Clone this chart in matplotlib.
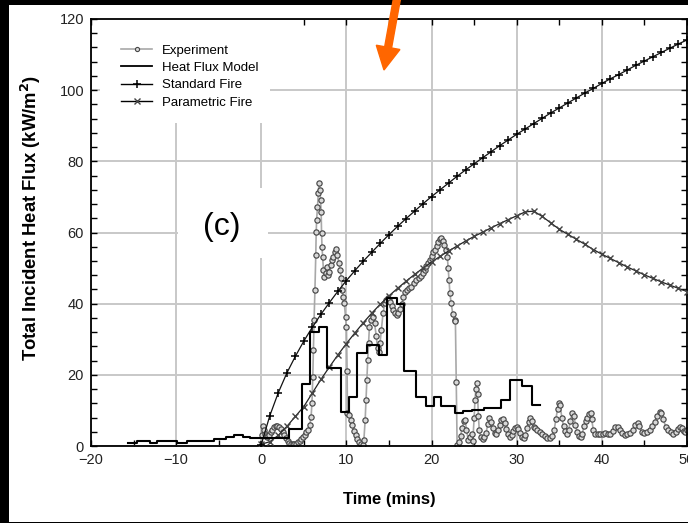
import matplotlib
matplotlib.use("Agg")
import matplotlib.pyplot as plt
from matplotlib.patches import Rectangle, FancyArrow
from matplotlib.ticker import MultipleLocator
from matplotlib.lines import Line2D

plt.rcParams['font.family'] = ['Liberation Sans', 'DejaVu Sans']

# ---------------- data ----------------
# Standard fire (one marker per minute)
std_t = list(range(0, 51))
std_y = [0.4, 8.5, 15.0, 20.5, 25.2, 29.5, 33.4, 37.0, 40.3, 43.5,
         46.5, 49.3, 52.0, 54.5, 57.0, 59.4, 61.7, 63.9, 66.0, 68.1,
         70.1, 72.0, 73.9, 75.8, 77.6, 79.3, 81.0, 82.7, 84.4, 86.0,
         87.6, 89.1, 90.6, 92.1, 93.6, 95.0, 96.4, 97.8, 99.2, 100.5,
         101.9, 103.2, 104.4, 105.7, 107.0, 108.2, 109.4, 110.6, 111.8, 113.0,
         114.1]

# Parametric fire (one marker per minute)
par_t = list(range(0, 51))
par_y = [0.5, 1.2, 3.0, 5.5, 8.3, 11.1, 14.9, 18.7, 22.2, 25.6,
         28.8, 31.8, 34.7, 37.4, 39.9, 42.2, 44.3, 46.3, 48.2, 50.0,
         51.7, 53.3, 54.8, 56.2, 57.6, 58.9, 60.1, 61.3, 62.5, 63.6,
         64.7, 65.8, 66.0, 64.5, 62.7, 60.9, 59.5, 58.1, 56.7, 55.2,
         53.9, 52.7, 51.5, 50.3, 49.2, 48.1, 47.1, 46.1, 45.2, 44.3,
         43.4]

# Heat flux model (step edges and level held after each edge)
hfm_t = [-15.7, -14.6, -13.1, -12.2, -9.9, -8.7, -5.6, -4.2, -3.2, -2.1,
         -1.3, 3.2, 4.8, 5.7, 6.8, 7.7, 9.4, 10.3, 11.2, 12.4,
         13.8, 14.8, 15.9, 16.8, 18.2, 19.3, 20.3, 21.1, 22.8, 23.7,
         24.8, 26.2, 28.1, 29.2, 30.6, 31.8, 32.7]
hfm_y = [0.9, 1.4, 0.9, 1.4, 0.9, 1.4, 1.9, 2.4, 3.2, 2.6,
         2.2, 4.7, 17.3, 32.1, 33.5, 22.0, 9.6, 13.9, 26.2, 28.4,
         25.6, 41.7, 39.8, 21.2, 13.7, 11.3, 13.7, 11.3, 9.4, 9.9,
         10.1, 10.6, 12.9, 18.5, 16.9, 11.5, 11.5]

# Experiment
exp_t = [0.0, 0.1, 0.2, 0.3, 0.4, 0.5, 0.7, 0.9, 1.1, 1.3, 1.5, 1.7, 1.9, 2.1, 2.3,
         2.5, 2.7, 2.9, 3.1, 3.3, 3.5, 3.7, 3.9, 4.1, 4.3, 4.5, 4.7, 4.9, 5.1, 5.3,
         5.5, 5.7, 5.85, 5.95, 6.05, 6.12, 6.2, 6.3, 6.4, 6.45, 6.5, 6.6, 6.7, 6.78,
         6.88, 6.96, 7.03, 7.08, 7.13, 7.2, 7.3, 7.4, 7.55, 7.7, 7.85, 8.0, 8.15,
         8.3, 8.45, 8.6, 8.8, 8.95, 9.1, 9.25, 9.4, 9.5, 9.6, 9.75, 9.9, 10.0,
         10.08, 10.12, 10.3, 10.5, 10.7, 10.9, 11.1, 11.3, 11.5, 11.7, 11.9,
         12.05, 12.2, 12.3, 12.4, 12.5, 12.6, 12.7, 12.9, 13.1, 13.3, 13.5,
         13.65, 13.8, 13.95, 14.1, 14.3, 14.5, 14.7, 14.9, 15.1, 15.3, 15.5,
         15.7, 15.9, 16.1, 16.3, 16.5, 16.7, 16.9, 17.1, 17.3, 17.6, 17.9,
         18.2, 18.5, 18.8, 19.0, 19.2, 19.4, 19.6, 19.8, 20.0, 20.2, 20.4,
         20.6, 20.8, 21.0, 21.1, 21.3, 21.5, 21.7, 21.85, 21.95, 22.05, 22.15,
         22.3, 22.5, 22.7, 22.8, 22.9, 23.0, 23.2, 23.4, 23.6, 23.8, 23.95,
         24.1, 24.3, 24.5, 24.7, 24.85, 25.0, 25.1, 25.2, 25.3, 25.4, 25.5,
         25.6, 25.8, 26.0, 26.2, 26.4, 26.6, 26.8, 27.0, 27.2, 27.4, 27.6,
         27.8, 28.0, 28.2, 28.4, 28.6, 28.8, 29.0, 29.2, 29.4, 29.6, 29.8,
         30.0, 30.2, 30.4, 30.6, 30.8, 31.0, 31.2, 31.4, 31.6, 31.8, 32.0,
         32.2, 32.4, 32.7, 33.0, 33.3, 33.6, 33.9, 34.2, 34.4, 34.6, 34.8,
         35.0, 35.1, 35.3, 35.5, 35.7, 35.9, 36.1, 36.3, 36.5, 36.7, 36.9,
         37.1, 37.3, 37.5, 37.7, 37.9, 38.1, 38.3, 38.5, 38.7, 38.8, 39.0,
         39.2, 39.5, 39.8, 40.1, 40.4, 40.7, 41.0, 41.3, 41.6, 41.9, 42.1,
         42.4, 42.7, 43.0, 43.3, 43.6, 43.9, 44.2, 44.4, 44.7, 45.0, 45.3,
         45.6, 45.9, 46.2, 46.5, 46.8, 47.0, 47.2, 47.5, 47.8, 48.1, 48.4,
         48.7, 49.0, 49.2, 49.4, 49.6, 49.8, 50.0]
exp_y = [0.0, 3.0, 5.6, 4.5, 3.4, 2.8, 2.5, 3.2, 3.9, 4.6, 5.2, 5.5, 5.6, 5.3, 4.7,
         3.9, 3.0, 2.2, 1.4, 0.9, 0.6, 0.5, 0.5, 0.7, 1.0, 1.5, 2.0, 2.6, 3.1, 3.8,
         4.6, 6.0, 8.2, 12.0, 19.5, 27.0, 35.4, 43.8, 53.7, 60.2, 63.5, 67.3, 71.0, 74.0,
         72.0, 69.1, 65.9, 59.8, 56.0, 53.2, 49.5, 47.6, 48.5, 50.4, 48.0, 49.0, 51.0,
         52.3, 53.2, 54.6, 55.3, 53.7, 51.5, 49.5, 47.1, 43.8, 42.0, 40.1, 36.3, 33.5,
         21.0, 9.2, 8.8, 7.4, 5.8, 4.2, 3.0, 2.0, 1.2, 0.6, 0.3,
         1.7, 7.3, 12.9, 18.5, 24.2, 28.9, 33.5, 35.4, 36.3, 34.5, 31.0,
         27.5, 26.5, 29.0, 32.6, 37.3, 40.1, 41.0, 41.5, 40.6, 39.4, 38.2,
         37.3, 36.8, 37.3, 38.5, 40.0, 41.8, 43.2, 43.8, 44.3, 44.8, 45.8,
         46.6, 47.3, 47.8, 48.5, 49.5, 50.5, 51.5, 52.3, 53.5, 54.4, 55.1,
         56.3, 57.4, 58.2, 58.4, 57.6, 56.5, 55.0, 53.2, 50.0, 46.7, 43.0,
         40.1, 37.0, 35.4, 35.0, 18.0, 0.3, 1.0, 2.8, 5.0, 7.0, 7.3,
         4.5, 1.8, 2.5, 3.5, 1.5, 8.0, 13.0, 16.0, 17.6, 14.5, 8.5,
         4.5, 2.4, 2.0, 2.4, 3.6, 6.2, 7.8, 6.8, 5.0, 3.6, 3.4,
         4.5, 6.0, 7.2, 7.5, 6.5, 4.8, 3.4, 2.6, 3.0, 4.2, 5.0,
         5.2, 4.8, 3.6, 2.5, 2.2, 3.0, 5.0, 6.8, 7.8, 6.9, 5.4,
         5.0, 4.6, 4.0, 3.4, 2.8, 2.3, 2.2, 2.8, 4.5, 7.5, 10.5,
         12.0, 11.5, 8.0, 5.5, 4.3, 3.5, 4.5, 7.0, 9.2, 8.5, 6.0,
         3.8, 2.7, 2.6, 3.5, 5.5, 7.0, 7.8, 9.0, 9.2, 7.5, 4.5,
         3.4, 3.3, 3.5, 3.4, 3.6, 3.4, 3.5, 4.2, 5.2, 5.4, 4.6,
         3.6, 3.2, 3.4, 3.6, 4.5, 5.8, 6.4, 5.5, 4.0, 3.6, 3.8,
         4.5, 5.5, 6.8, 8.5, 9.6, 9.3, 7.6, 5.4, 4.5, 3.8, 3.5,
         3.8, 4.8, 5.4, 5.0, 4.2, 4.0, 4.4]

labels = ['Experiment', 'Heat Flux Model', 'Standard Fire', 'Parametric Fire']
x_label = 'Time (mins)'
y_label = 'Total Incident Heat Flux (kW/m$^{\\mathbf{2}}$)'
panel = '(c)'

# ---------------- figure ----------------
W, H = 688, 523
fig = plt.figure(figsize=(W / 100, H / 100), dpi=100)
fig.patch.set_facecolor('black')
fig.add_artist(Rectangle((9 / W, 1.3 / H), 1 - 9 / W, (518 - 1.3) / H,
                         transform=fig.transFigure, facecolor='white',
                         edgecolor='none', zorder=-5))

ax = fig.add_axes([91 / W, 77 / H, 596 / W, 427 / H])
ax.set_xlim(-20, 50)
ax.set_ylim(0, 120)

ax.xaxis.set_major_locator(MultipleLocator(10))
ax.xaxis.set_minor_locator(MultipleLocator(5))
ax.yaxis.set_major_locator(MultipleLocator(20))
ax.yaxis.set_minor_locator(MultipleLocator(4))
ax.tick_params(which='both', direction='in', top=True, right=True,
               length=4.5, width=1.0, color='black')
ax.tick_params(which='major', labelsize=10.5, pad=5, labelcolor='#222222')
ax.grid(True, which='major', color='#c8c8c8', linewidth=1.4)
ax.set_axisbelow(True)
for s in ax.spines.values():
    s.set_linewidth(1.3)

# white boxes (display pixels, origin bottom-left) hiding the grid
# behind the legend and behind the panel label
ax.add_patch(Rectangle((100, H - 123), 170, 104, transform=None,
                       facecolor='white', edgecolor='none', zorder=1.8))
ax.add_patch(Rectangle((178, H - 258), 90, 70, transform=None,
                       facecolor='white', edgecolor='none', zorder=1.8))

# series
ax.plot(exp_t, exp_y, color='#a8a8a8', lw=1.2, marker='o', ms=3.8,
        mfc='#d8d8d8', mec='#474747', mew=0.85, zorder=2)
ax.plot(par_t, par_y, color='#222222', lw=0.9, marker='x', ms=5,
        mec='#444444', mew=1.0, zorder=3)
ax.plot(std_t, std_y, color='#111111', lw=0.9, marker='+', ms=6,
        mec='black', mew=1.1, zorder=3)
ax.step(hfm_t, hfm_y, where='post', color='black', lw=1.5, zorder=4)

ax.text(-4.6, 61.5, panel, fontsize=23, ha='center', va='center', zorder=1.9)

ax.set_xlabel(x_label, fontsize=12, fontweight='bold', labelpad=18)
ax.set_ylabel(y_label, fontsize=13.3, fontweight='bold')
ax.yaxis.set_label_coords(-0.081, 0.534)

handles = [
    Line2D([], [], color='#a8a8a8', lw=1.2, marker='o', ms=3, mfc='#d8d8d8',
           mec='#474747', mew=0.8),
    Line2D([], [], color='black', lw=1.3),
    Line2D([], [], color='black', lw=1.0, marker='+', ms=6, mew=1.1),
    Line2D([], [], color='black', lw=1.0, marker='x', ms=4.5, mew=1.0, mec='#444444'),
]
ax.legend(handles, labels, loc='upper left', bbox_to_anchor=(0.05, 0.94),
          frameon=False, fontsize=9.5, handlelength=2.4, handletextpad=0.7,
          labelspacing=0.38, borderaxespad=0, borderpad=0)

# orange arrow on top
fig.add_artist(FancyArrow(3.98, 5.30, -0.14, -0.77, width=0.07,
                          head_width=0.24, head_length=0.23,
                          length_includes_head=True, color='#ff6600',
                          transform=fig.dpi_scale_trans, zorder=10))

fig.savefig('out.png', dpi=100, facecolor=fig.get_facecolor())
